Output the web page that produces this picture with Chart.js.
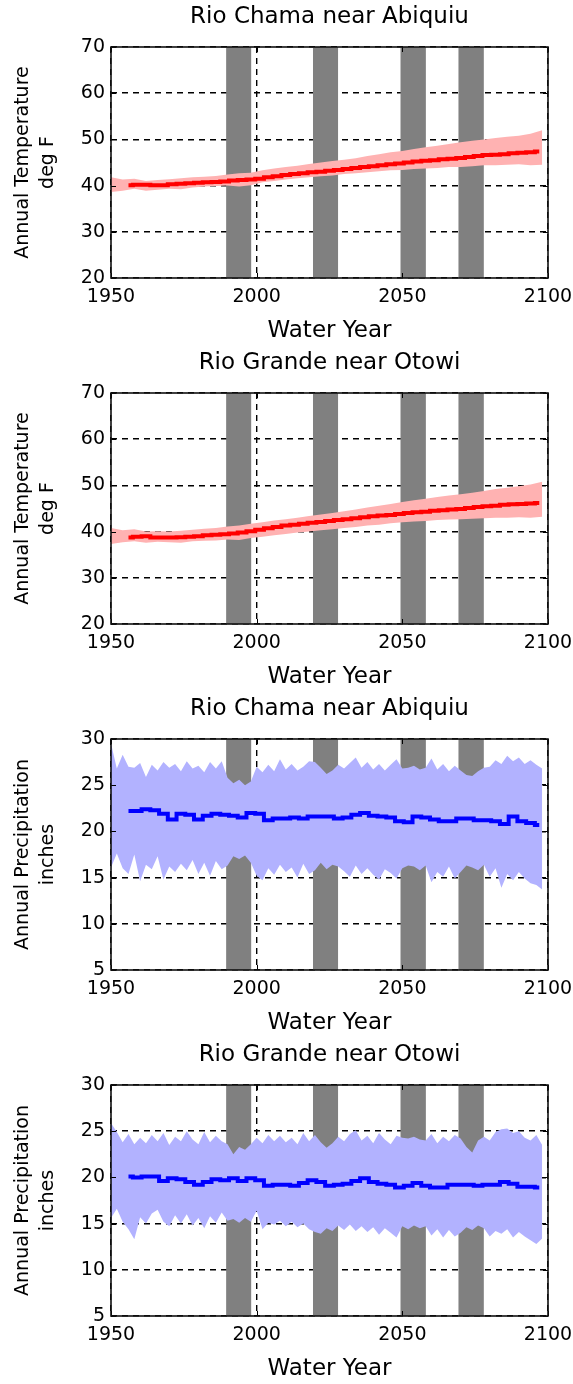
<!DOCTYPE html>
<html>
<head>
<meta charset="utf-8">
<script src="https://cdn.jsdelivr.net/npm/chart.js@4"></script>
<style>
  body { margin: 0; background: #fff; }
  canvas { display: block; }
</style>
</head>
<body>
<canvas id="chama-temp" width="573" height="346"></canvas>
<canvas id="otowi-temp" width="573" height="346"></canvas>
<canvas id="chama-precip" width="573" height="346"></canvas>
<canvas id="otowi-precip" width="573" height="346"></canvas>
<script>
// ---- dados ----
const xTicks = [1950, 2000, 2050, 2100];
const tempTicks = [20, 30, 40, 50, 60, 70];
const precipTicks = [5, 10, 15, 20, 25, 30];

// periodos em cinza
const bandStart = [1989.5, 2019.3, 2049.3, 2069.2];
const bandEnd = [1998.2, 2028.0, 2058.1, 2078.0];

function anos(inicio, fim, passo) {
    const r = [];
    for (let a = inicio; a <= fim; a += passo) r.push(a);
    return r;
}
const tempYears = anos(1950, 2098, 4);
const precipYears = anos(1950, 2098, 2);
const meanYears = anos(1956, 2097, 3);

// Rio Chama - temperatura
const chamaTempUpper = [41.8, 41.3, 41.5, 41.0, 41.2, 41.4, 41.6, 41.8, 41.9, 42.1, 42.4, 42.7, 42.8, 43.3, 43.7, 44.0, 44.3, 44.7, 45.0, 45.3, 45.6, 45.9, 46.4, 46.8, 47.2, 47.5, 47.9, 48.3, 48.6, 49.0, 49.4, 49.7, 50.0, 50.3, 50.6, 50.8, 51.2, 52.0];
const chamaTempLower = [38.6, 38.9, 39.3, 38.9, 39.1, 39.3, 39.2, 39.6, 39.8, 39.9, 40.0, 39.8, 40.1, 40.7, 41.0, 41.3, 41.6, 41.8, 42.0, 42.2, 42.5, 42.7, 42.9, 43.1, 43.3, 43.4, 43.6, 43.7, 43.8, 44.0, 44.0, 44.2, 44.4, 44.4, 44.5, 44.6, 44.4, 44.5];
const chamaTempMean = [40.1, 40.2, 40.2, 40.1, 40.1, 40.3, 40.4, 40.5, 40.6, 40.7, 40.8, 40.9, 41.1, 41.2, 41.3, 41.5, 41.8, 42.0, 42.3, 42.5, 42.7, 42.9, 43.0, 43.2, 43.4, 43.6, 43.8, 44.0, 44.2, 44.4, 44.6, 44.8, 45.0, 45.2, 45.4, 45.5, 45.7, 45.8, 46.0, 46.2, 46.4, 46.6, 46.7, 46.8, 47.0, 47.1, 47.2, 47.4];

// Rio Grande - temperatura
const otowiTempUpper = [40.8, 40.3, 40.5, 40.0, 40.1, 40.0, 40.2, 40.4, 40.6, 40.8, 41.1, 41.3, 41.7, 42.0, 42.4, 42.7, 43.0, 43.4, 43.7, 44.0, 44.4, 44.8, 45.2, 45.6, 46.0, 46.4, 46.8, 47.1, 47.5, 47.8, 48.1, 48.4, 48.8, 49.2, 49.5, 49.8, 50.2, 50.8];
const otowiTempLower = [37.3, 37.7, 37.9, 37.6, 37.8, 37.7, 37.6, 37.9, 38.0, 38.1, 38.3, 38.2, 38.6, 38.9, 39.2, 39.5, 39.8, 40.0, 40.3, 40.5, 40.8, 41.0, 41.3, 41.5, 41.8, 42.0, 42.2, 42.3, 42.5, 42.6, 42.7, 42.8, 42.9, 43.0, 43.0, 43.1, 43.0, 43.2];
const otowiTempMean = [38.7, 38.9, 39.0, 38.7, 38.7, 38.7, 38.8, 38.9, 39.0, 39.2, 39.3, 39.4, 39.6, 39.8, 40.1, 40.4, 40.7, 41.0, 41.3, 41.5, 41.7, 41.9, 42.1, 42.3, 42.5, 42.7, 42.9, 43.1, 43.3, 43.5, 43.6, 43.8, 44.0, 44.2, 44.3, 44.5, 44.6, 44.8, 44.9, 45.1, 45.3, 45.5, 45.6, 45.8, 45.9, 46.0, 46.1, 46.2];

// Rio Chama - precipitacao
const chamaPrecipUpper = [29.5, 26.8, 28.3, 27.0, 26.9, 27.4, 25.9, 27.2, 26.6, 27.5, 26.9, 27.3, 26.5, 27.6, 26.8, 27.1, 26.4, 27.5, 26.8, 27.6, 25.8, 25.2, 25.6, 25.0, 25.4, 27.0, 26.4, 27.2, 26.5, 27.8, 26.7, 27.3, 26.6, 27.0, 27.6, 27.5, 26.9, 26.2, 26.6, 27.2, 26.8, 27.4, 28.0, 26.9, 27.5, 26.7, 27.3, 26.6, 27.2, 27.8, 26.8, 26.9, 27.1, 26.7, 26.9, 27.9, 26.7, 27.3, 26.5, 27.1, 26.6, 26.1, 26.0, 26.5, 26.9, 27.0, 27.7, 27.3, 28.2, 27.6, 28.0, 27.3, 27.7, 27.2, 26.8];
const chamaPrecipLower = [16.1, 17.6, 16.0, 15.4, 17.5, 14.6, 16.4, 15.9, 17.3, 14.8, 16.2, 15.6, 16.5, 15.8, 16.9, 15.4, 16.6, 15.2, 16.8, 15.9, 16.3, 17.3, 17.0, 17.4, 16.6, 15.2, 14.7, 16.0, 15.3, 16.4, 15.6, 16.1, 15.0, 16.5, 15.4, 15.8, 16.6, 15.9, 16.4, 16.2, 15.7, 15.1, 16.3, 15.4, 16.0, 15.3, 14.8, 15.9, 15.5, 14.9, 16.0, 16.3, 16.2, 15.8, 16.3, 14.5, 15.6, 15.1, 16.2, 14.9, 15.6, 16.3, 16.1, 15.8, 16.4, 15.1, 16.0, 13.9, 15.4, 14.7, 15.6, 14.9, 14.4, 14.2, 13.7];
const chamaPrecipMean = [22.2, 22.2, 22.4, 22.3, 21.9, 21.3, 21.9, 21.8, 21.3, 21.7, 21.9, 21.8, 21.7, 21.5, 22.0, 21.9, 21.2, 21.4, 21.4, 21.5, 21.4, 21.6, 21.6, 21.6, 21.4, 21.5, 21.8, 22.0, 21.7, 21.6, 21.5, 21.1, 21.0, 21.6, 21.5, 21.3, 21.1, 21.1, 21.4, 21.4, 21.2, 21.2, 21.1, 20.8, 21.6, 21.1, 20.9, 20.7];

// Rio Grande - precipitacao
const otowiPrecipUpper = [25.9, 24.9, 23.8, 24.7, 23.6, 24.3, 23.7, 24.6, 23.9, 24.8, 23.5, 24.4, 23.9, 25.0, 24.1, 23.6, 24.9, 23.8, 24.5, 23.9, 23.6, 22.5, 23.3, 23.0, 23.6, 24.3, 23.7, 24.6, 23.9, 24.5, 23.8, 24.3, 23.6, 24.8, 23.9, 24.6, 23.8, 23.2, 23.7, 24.4, 23.9, 24.7, 25.1, 24.0, 24.5, 23.7, 24.8, 24.1, 23.6, 24.5, 24.3, 24.2, 24.4, 24.1, 24.0, 24.7, 23.7, 24.4, 23.9, 24.6, 24.2, 23.3, 22.7, 24.0, 24.4, 24.0, 24.9, 25.2, 25.3, 24.8, 25.0, 24.3, 24.0, 24.6, 23.5];
const otowiPrecipLower = [15.6, 16.6, 15.2, 14.4, 13.3, 15.7, 15.0, 16.1, 16.5, 15.2, 14.7, 15.9, 15.0, 16.0, 14.8, 15.6, 14.5, 15.8, 15.1, 16.2, 15.3, 15.5, 15.1, 15.6, 15.2, 16.4, 14.4, 15.1, 14.9, 15.3, 14.7, 15.2, 14.6, 15.0, 14.4, 14.1, 13.9, 14.5, 14.2, 14.8, 14.3, 14.9, 14.2, 14.7, 14.1, 14.6, 13.8, 14.5, 14.0, 13.5, 14.7, 14.4, 14.8, 14.5, 14.7, 13.7, 14.4, 13.5, 14.3, 13.6, 14.0, 14.6, 14.3, 14.8, 14.5, 13.6, 14.2, 13.9, 14.4, 13.5, 14.1, 13.6, 13.2, 12.8, 13.4];
const otowiPrecipMean = [20.1, 20.0, 20.1, 20.1, 19.6, 19.9, 19.8, 19.5, 19.2, 19.5, 19.8, 19.7, 19.9, 19.6, 19.9, 19.7, 19.1, 19.2, 19.2, 19.1, 19.4, 19.7, 19.5, 19.1, 19.2, 19.3, 19.6, 19.9, 19.5, 19.3, 19.2, 18.9, 19.1, 19.4, 19.1, 18.9, 18.9, 19.2, 19.2, 19.2, 19.1, 19.2, 19.2, 19.5, 19.3, 19.0, 19.0, 18.9];

// ---- graficos ----
const fonte = 'DejaVu Sans, Verdana, sans-serif';

function pontos(xs, ys) {
    return xs.map((x, i) => ({ x: x, y: ys[i] }));
}

// moldura e marcas de escala para dentro (estilo matlab)
const moldura = {
    id: 'moldura',
    afterDraw(chart) {
        const { ctx, chartArea: a, scales } = chart;
        ctx.save();
        ctx.strokeStyle = '#000';
        ctx.lineWidth = 1;
        scales.y.ticks.forEach(t => {
            const y = Math.round(scales.y.getPixelForValue(t.value)) + 0.5;
            ctx.beginPath();
            ctx.moveTo(a.left, y); ctx.lineTo(a.left + 5, y);
            ctx.moveTo(a.right, y); ctx.lineTo(a.right - 5, y);
            ctx.stroke();
        });
        scales.x.ticks.forEach(t => {
            const x = Math.round(scales.x.getPixelForValue(t.value)) + 0.5;
            ctx.beginPath();
            ctx.moveTo(x, a.bottom); ctx.lineTo(x, a.bottom - 5);
            ctx.moveTo(x, a.top); ctx.lineTo(x, a.top + 5);
            ctx.stroke();
        });
        ctx.lineWidth = 1.6;
        ctx.strokeStyle = '#111';
        ctx.strokeRect(a.left, a.top, a.right - a.left, a.bottom - a.top);
        ctx.restore();
    }
};

function criarPainel(id, titulo, tituloY, ticksY, upper, lower, envYears, mean, corFaixa, corLinha) {
    const yMin = ticksY[0];
    const yMax = ticksY[ticksY.length - 1];
    const datasets = [];

    // media
    datasets.push({
        data: pontos(meanYears, mean),
        borderColor: corLinha,
        borderWidth: 4,
        pointRadius: 0,
        fill: false,
        stepped: 'middle',
        order: 0
    });
    // envelope (superior e inferior, preenchido entre eles)
    datasets.push({
        data: pontos(envYears, upper),
        borderColor: corFaixa,
        borderWidth: 0,
        pointRadius: 0,
        fill: false,
        order: 1
    });
    datasets.push({
        data: pontos(envYears, lower),
        borderColor: corFaixa,
        backgroundColor: corFaixa,
        borderWidth: 0,
        pointRadius: 0,
        fill: '-1',
        order: 1
    });
    // faixas cinzas
    bandStart.forEach((s, i) => {
        datasets.push({
            data: [{ x: s, y: yMax }, { x: bandEnd[i], y: yMax }],
            borderWidth: 0,
            backgroundColor: '#808080',
            pointRadius: 0,
            fill: 'start',
            order: 2
        });
    });

    const config = {
        type: 'line',
        data: { datasets: datasets },
        options: {
            responsive: false,
            animation: false,
            layout: { padding: { left: 0, right: 0, top: 0, bottom: 0 } },
            plugins: {
                legend: { display: false },
                tooltip: { enabled: false }
            },
            scales: {
                x: {
                    type: 'linear',
                    min: 1950,
                    max: 2100,
                    afterBuildTicks: s => { s.ticks = xTicks.map(v => ({ value: v })); },
                    afterFit: s => { s.height = 68; s.paddingLeft = 0; s.paddingRight = 25; },
                    grid: { color: '#000', lineWidth: 1.4, drawTicks: false },
                    border: { display: false, dash: [6, 5] },
                    ticks: {
                        color: '#000',
                        padding: 8,
                        maxRotation: 0,
                        font: { family: fonte, size: 19 },
                        callback: v => String(v)
                    },
                    title: {
                        display: true,
                        text: 'Water Year',
                        color: '#000',
                        font: { family: fonte, size: 23 },
                        padding: { top: 0, bottom: 1 }
                    }
                },
                // eixo de cima so para o titulo, centrado na area do grafico
                topo: {
                    type: 'linear',
                    position: 'top',
                    min: 1950,
                    max: 2100,
                    afterFit: s => { s.height = 47; s.paddingLeft = 0; s.paddingRight = 0; },
                    grid: { display: false },
                    border: { display: false },
                    ticks: { display: false },
                    title: {
                        display: true,
                        text: titulo,
                        color: '#000',
                        font: { family: fonte, size: 23 },
                        padding: { top: 3, bottom: 0 }
                    }
                },
                y: {
                    min: yMin,
                    max: yMax,
                    afterBuildTicks: s => { s.ticks = ticksY.map(v => ({ value: v })); },
                    afterFit: s => { s.width = 111; },
                    grid: { color: '#000', lineWidth: 1.4, drawTicks: false },
                    border: { display: false, dash: [6, 5] },
                    ticks: {
                        color: '#000',
                        padding: 6,
                        font: { family: fonte, size: 19 }
                    },
                    title: {
                        display: true,
                        text: tituloY,
                        color: '#000',
                        font: { family: fonte, size: 19, lineHeight: 1.3 },
                        padding: { top: 11, bottom: 0 }
                    }
                }
            }
        },
        plugins: [moldura]
    };
    return new Chart(document.getElementById(id), config);
}

const rosa = 'rgb(255, 178, 178)';
const lilas = 'rgb(178, 178, 255)';

criarPainel('chama-temp', 'Rio Chama near Abiquiu', ['Annual Temperature', 'deg F'], tempTicks,
    chamaTempUpper, chamaTempLower, tempYears, chamaTempMean, rosa, '#ff0000');
criarPainel('otowi-temp', 'Rio Grande near Otowi', ['Annual Temperature', 'deg F'], tempTicks,
    otowiTempUpper, otowiTempLower, tempYears, otowiTempMean, rosa, '#ff0000');
criarPainel('chama-precip', 'Rio Chama near Abiquiu', ['Annual Precipitation', 'inches'], precipTicks,
    chamaPrecipUpper, chamaPrecipLower, precipYears, chamaPrecipMean, lilas, '#0000ff');
criarPainel('otowi-precip', 'Rio Grande near Otowi', ['Annual Precipitation', 'inches'], precipTicks,
    otowiPrecipUpper, otowiPrecipLower, precipYears, otowiPrecipMean, lilas, '#0000ff');
</script>
</body>
</html>
